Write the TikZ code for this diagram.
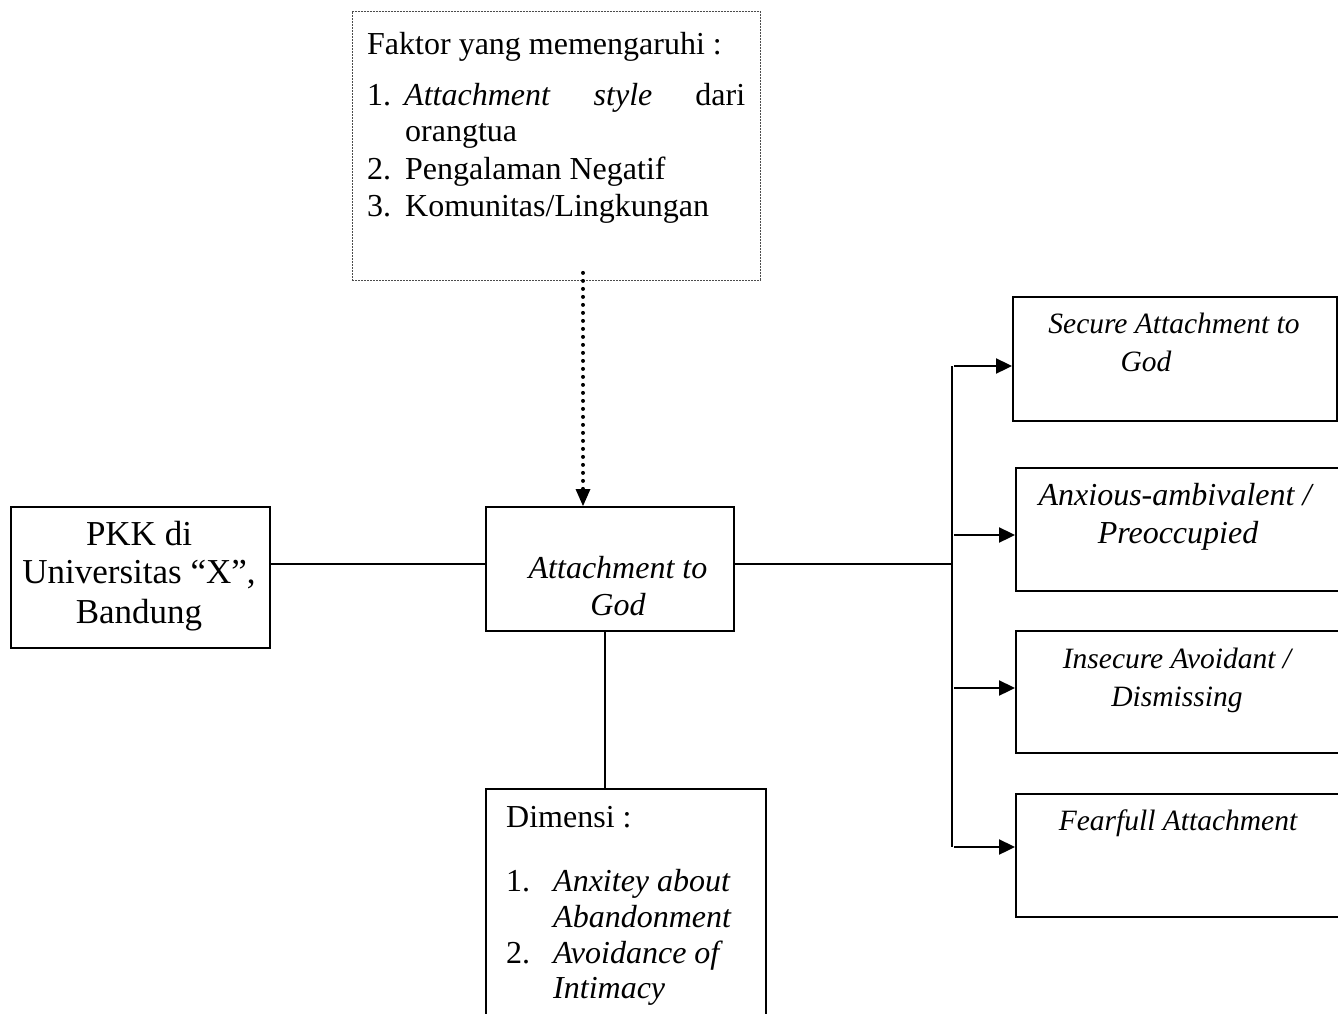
\documentclass[tikz,border=0pt]{standalone}
\usepackage{fontspec}
\setmainfont{Liberation Serif}
\usetikzlibrary{arrows.meta}
\tikzset{
  boxs/.style={draw=black, line width=2pt, rectangle, inner sep=0pt, anchor=north west},
  dotbox/.style={draw=black!70, line width=0.9pt, dash pattern=on 2pt off 1pt, rectangle, inner sep=0pt, anchor=north west},
  conn/.style={draw=black, line width=2.3pt},
  arr/.style={conn, -{Triangle[length=16pt,width=15pt]}},
  dotarr/.style={draw=black, line width=4pt, dash pattern=on 0pt off 8pt, line cap=round,
     -{Triangle[length=17pt,width=15pt,line width=0pt]}},
  big/.style={inner sep=0pt, font=\fontsize{32}{37}\selectfont},
  bigi/.style={inner sep=0pt, font=\fontsize{32}{37}\selectfont\itshape},
  huge/.style={inner sep=0pt, font=\fontsize{35}{39}\selectfont},
  smi/.style={inner sep=0pt, font=\fontsize{29.5}{34}\selectfont\itshape},
}
\begin{document}
\begin{tikzpicture}[x=1pt, y=-1pt]
\useasboundingbox (0,0) rectangle (1338,1014);
% boxes
\node[dotbox, minimum width=408pt, minimum height=269pt] (factor) at (352,11) {};
\node[boxs, minimum width=259pt, minimum height=141pt] (pkk) at (10,506) {};
\node[boxs, minimum width=248pt, minimum height=124pt] (attach) at (485,506) {};
\node[boxs, minimum width=280pt, minimum height=262pt] (dim) at (485,788) {};
\node[boxs, minimum width=324pt, minimum height=124pt] (secure) at (1012,296) {};
\node[boxs, minimum width=326pt, minimum height=123pt] (anx) at (1015,467) {};
\node[boxs, minimum width=326pt, minimum height=122pt] (insec) at (1015,630) {};
\node[boxs, minimum width=326pt, minimum height=123pt] (fear) at (1015,793) {};

% factor texts
\node[big, anchor=base west] (f0) at (367,55) {Faktor yang memengaruhi :};
\node[big, anchor=base west] (f1n) at (367,106) {1.};
\node[big, anchor=base west] (f1) at (404,106) {\hbox to 341pt{\textit{Attachment}\hfill\textit{style}\hfill dari}};
\node[big, anchor=base west] (f1b) at (405,142) {orangtua};
\node[big, anchor=base west] (f2n) at (367,179) {2.};
\node[big, anchor=base west] (f2) at (405,179) {Pengalaman Negatif};
\node[big, anchor=base west] (f3n) at (367,216) {3.};
\node[big, anchor=base west] (f3) at (405,216) {Komunitas/Lingkungan};

% pkk texts
\node[huge, anchor=base] (p1) at (139,545) {PKK di};
\node[huge, anchor=base] (p2) at (139,583) {Universitas “X”,};
\node[huge, anchor=base] (p3) at (139,623) {Bandung};

% attach texts
\node[bigi, anchor=base] (a1) at (618,578) {Attachment to};
\node[bigi, anchor=base] (a2) at (618,615) {God};

% dimensi texts
\node[big, anchor=base west] (d0) at (506,827) {Dimensi :};
\node[big, anchor=base west] (d1n) at (506,891) {1.};
\node[bigi, anchor=base west] (d1) at (553,891) {Anxitey about};
\node[bigi, anchor=base west] (d1b) at (553,927) {Abandonment};
\node[big, anchor=base west] (d2n) at (506,963) {2.};
\node[bigi, anchor=base west] (d2) at (553,963) {Avoidance of};
\node[bigi, anchor=base west] (d2b) at (553,998) {Intimacy};

% right texts
\node[smi, anchor=base] (s1) at (1174,333) {Secure Attachment to};
\node[smi, anchor=base] (s2) at (1146,371) {God};
\node[bigi, anchor=base] (x1) at (1175,505) {Anxious-ambivalent /};
\node[bigi, anchor=base] (x2) at (1178,543) {Preoccupied};
\node[smi, anchor=base] (i1) at (1177,668) {Insecure Avoidant /};
\node[smi, anchor=base] (i2) at (1177,706) {Dismissing};
\node[smi, anchor=base] (r1) at (1178,830) {Fearfull Attachment};

% coordinates
\coordinate (lvl) at (0,564);
\coordinate (bus) at (952,564);
\coordinate (bustop) at (952,366);
\coordinate (busbot) at (952,847);
\coordinate (y1) at (954,366);
\coordinate (y2) at (954,535);
\coordinate (y3) at (954,688);
\coordinate (y4) at (954,847);
\coordinate (vx) at (605,0);
\coordinate (dx) at (583,0);

% connectors
\draw[conn] (pkk.east |- lvl) -- (attach.west |- lvl);
\draw[conn] (attach.east |- lvl) -- (bus);
\draw[conn] (bustop) -- (busbot);
\draw[arr] (y1) -- (secure.west |- y1);
\draw[arr] (y2) -- (anx.west |- y2);
\draw[arr] (y3) -- (insec.west |- y3);
\draw[arr] (y4) -- (fear.west |- y4);
\draw[conn] (attach.south -| vx) -- (dim.north -| vx);
\draw[dotarr] ([yshift=8pt]factor.south -| dx) -- (attach.north -| dx);
\end{tikzpicture}
\end{document}
